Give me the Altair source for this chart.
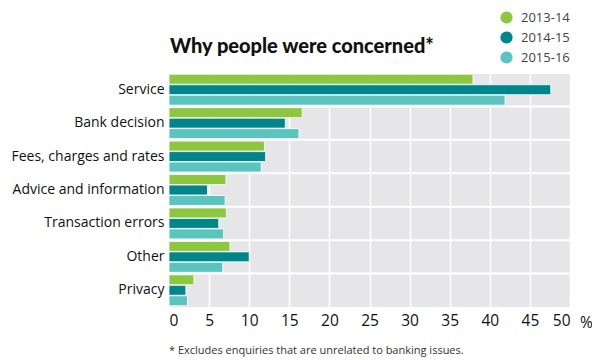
import altair as alt
import pandas as pd

categories = ["Service", "Bank decision", "Fees, charges and rates", "Advice and information",
              "Transaction errors", "Other", "Privacy"]
years = ["2013-14", "2014-15", "2015-16"]
v_2013 = [37.9, 16.6, 11.9, 7.1, 7.15, 7.6, 3.1]
v_2014 = [47.6, 14.5, 12.05, 4.8, 6.2, 10.0, 2.1]
v_2015 = [41.9, 16.2, 11.5, 7.0, 6.8, 6.7, 2.3]
colors = ["#8dc63f", "#00868a", "#5bc4bf"]
x_ticks = [0, 5, 10, 15, 20, 25, 30, 35, 40, 45, 50]
title_text = "Why people were concerned*"
foot_text = "* Excludes enquiries that are unrelated to banking issues."
unit_text = "%"

rows = []
for yr, vals in zip(years, [v_2013, v_2014, v_2015]):
    for c, v in zip(categories, vals):
        rows.append({"category": c, "year": yr, "value": v})
df = pd.DataFrame(rows)
cat_df = pd.DataFrame({"category": categories})
one = pd.DataFrame({"t": [title_text], "f": [foot_text], "u": [unit_text]})

W, H = 401, 234
FONT = "Open Sans"

yscale = alt.Scale(domain=categories, paddingInner=0, paddingOuter=0)

bars = alt.Chart(df).mark_bar(stroke="white", strokeWidth=0.8).encode(
    x=alt.X("value:Q", scale=alt.Scale(domain=[0, 50], nice=False),
            axis=alt.Axis(values=x_ticks, title=None, grid=True, gridColor="white", gridWidth=1.5,
                          ticks=False, domain=False, labelFontSize=15.5, labelColor="#111",
                          labelFont=FONT, labelPadding=6, labelOverlap=False)),
    y=alt.Y("category:N", scale=yscale,
            axis=alt.Axis(title=None, ticks=False, domain=False, grid=False, labelFontSize=14,
                          labelColor="#111", labelFont=FONT, labelPadding=5, labelLimit=200)),
    yOffset=alt.YOffset("year:N", sort=years, scale=alt.Scale(paddingOuter=0.12, paddingInner=0.05)),
    color=alt.Color("year:N", sort=years, scale=alt.Scale(domain=years, range=colors),
                    legend=alt.Legend(title=None, orient="none", legendX=331, legendY=-62,
                                      symbolType="circle", symbolSize=150, symbolStrokeWidth=0,
                                      labelFontSize=13, labelColor="#444", labelFont=FONT,
                                      rowPadding=6, labelOffset=8)),
)

hlines = alt.Chart(cat_df).mark_rule(color="white", strokeWidth=2).encode(
    y=alt.Y("category:N", bandPosition=0, scale=yscale),
)

title = alt.Chart(one).mark_text(
    align="left", baseline="middle", fontSize=20, fontWeight=900, color="#111", font="Lato"
).encode(text="t:N", x=alt.value(1), y=alt.value(-26))

unit = alt.Chart(one).mark_text(
    align="left", baseline="middle", fontSize=15.5, color="#111", font=FONT
).encode(text="u:N", x=alt.value(W + 10), y=alt.value(H + 16))

foot = alt.Chart(one).mark_text(
    align="left", baseline="middle", fontSize=11, color="#333", font=FONT
).encode(text="f:N", x=alt.value(0), y=alt.value(H + 44))

chart = alt.layer(hlines, bars, title, unit, foot).properties(
    width=W, height=H,
    autosize=alt.AutoSizeParams(type="none"),
    padding={"left": 161, "top": 65, "right": 22, "bottom": 52},
).configure_view(fill="#e6e6e8", stroke=None)

chart.save("out.html", embed_options={"renderer": "svg", "actions": False})
